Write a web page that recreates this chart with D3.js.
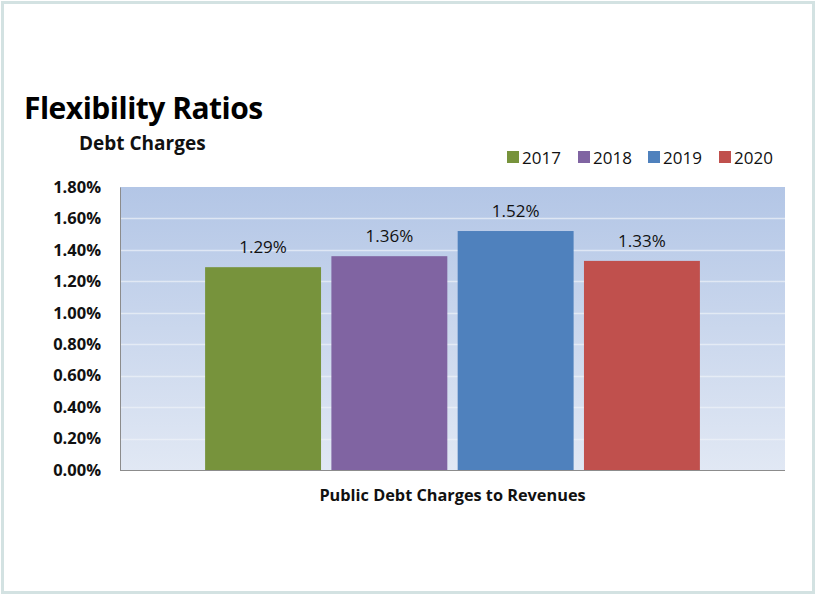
<!DOCTYPE html>
<html>
<head>
<meta charset="utf-8">
<script src="https://cdn.jsdelivr.net/npm/d3@7"></script>
<style>
  html, body { margin: 0; padding: 0; background: #fff; }
  svg { display: block; }
</style>
</head>
<body>
<svg id="chart" width="817" height="596"></svg>
<script>
// chart values
const years = ["2017", "2018", "2019", "2020"];
const values = [1.29, 1.36, 1.52, 1.33];
const colors = ["#77933c", "#8064a2", "#4f81bd", "#c0504d"];
const ticks = [0, 0.2, 0.4, 0.6, 0.8, 1.0, 1.2, 1.4, 1.6, 1.8];
const category = "Public Debt Charges to Revenues";

const WIDTH = 817;
const HEIGHT = 596;
const FONT = "'Open Sans', 'Noto Sans', Arial, sans-serif";

const plot = { left: 120, right: 785, top: 187, bottom: 470 };

const svg = d3.select("#chart");

// outer frame
svg.append("rect")
  .attr("x", 2.5).attr("y", 2.5)
  .attr("width", WIDTH - 6).attr("height", HEIGHT - 6)
  .style("fill", "#fff")
  .style("stroke", "#d3e2e2")
  .style("stroke-width", 3);

// plot background gradient
const defs = svg.append("defs");
const grad = defs.append("linearGradient")
  .attr("id", "bg").attr("x1", 0).attr("y1", 0).attr("x2", 0).attr("y2", 1);
grad.append("stop").attr("offset", "0%").attr("stop-color", "#b3c6e6");
grad.append("stop").attr("offset", "100%").attr("stop-color", "#e1e8f4");

const y = d3.scaleLinear().domain([0, 1.8]).range([plot.bottom, plot.top]);
const x0 = d3.scaleBand().domain([category]).range([plot.left, plot.right])
  .paddingInner(0).paddingOuter(0.172);
const x1 = d3.scaleBand().domain(years).range([0, x0.bandwidth()])
  .paddingInner(0.082).paddingOuter(0);

svg.append("rect")
  .attr("x", plot.left).attr("y", plot.top)
  .attr("width", plot.right - plot.left).attr("height", plot.bottom - plot.top)
  .style("fill", "url(#bg)");

// gridlines
svg.append("g").selectAll("line")
  .data(ticks.filter(t => t > 0 && t < 1.8))
  .enter().append("line")
  .attr("x1", plot.left).attr("x2", plot.right)
  .attr("y1", d => Math.round(y(d)) + 0.5).attr("y2", d => Math.round(y(d)) + 0.5)
  .style("stroke", "#eef2f8")
  .style("stroke-opacity", 0.7)
  .style("stroke-width", 1.5);

// y axis
const yAxis = svg.append("g")
  .attr("transform", `translate(${plot.left},0)`)
  .call(d3.axisLeft(y).tickValues(ticks).tickSize(0).tickPadding(19)
    .tickFormat(d => d.toFixed(2) + "%"));
yAxis.select(".domain").style("stroke", "#8c8c8c");
yAxis.selectAll("text")
  .style("font-family", FONT)
  .style("font-size", "16.5px")
  .style("font-weight", "bold")
  .style("fill", "#111");

// bars
const group = svg.append("g")
  .attr("transform", `translate(${x0(category)},0)`);
group.selectAll("rect")
  .data(years)
  .enter().append("rect")
  .attr("x", d => x1(d))
  .attr("y", (d, i) => y(values[i]))
  .attr("width", x1.bandwidth())
  .attr("height", (d, i) => y(0) - y(values[i]))
  .style("fill", (d, i) => colors[i]);

// value labels
group.selectAll("text")
  .data(years)
  .enter().append("text")
  .attr("x", d => x1(d) + x1.bandwidth() / 2)
  .attr("y", (d, i) => y(values[i]) - 14)
  .attr("text-anchor", "middle")
  .text((d, i) => values[i].toFixed(2) + "%")
  .style("font-family", FONT)
  .style("font-size", "17px")
  .style("fill", "#111");

// x axis line
svg.append("line")
  .attr("x1", plot.left).attr("x2", plot.right)
  .attr("y1", plot.bottom + 0.5).attr("y2", plot.bottom + 0.5)
  .style("stroke", "#8c8c8c")
  .style("stroke-width", 1);

// category label
svg.append("text")
  .attr("x", x0(category) + x0.bandwidth() / 2)
  .attr("y", 501)
  .attr("text-anchor", "middle")
  .text(category)
  .style("font-family", FONT)
  .style("font-size", "16.3px")
  .style("font-weight", "bold")
  .style("fill", "#111");

// titles
svg.append("text")
  .attr("x", 24).attr("y", 119)
  .text("Flexibility Ratios")
  .style("font-family", FONT)
  .style("font-size", "30px")
  .style("font-weight", "bold")
  .style("letter-spacing", "-0.5px")
  .style("fill", "#000");
svg.append("text")
  .attr("x", 79).attr("y", 150)
  .text("Debt Charges")
  .style("font-family", FONT)
  .style("font-size", "19px")
  .style("font-weight", "bold")
  .style("fill", "#111");

// legend
const legendX = [507, 578, 648, 719];
const legend = svg.append("g");
years.forEach((yr, i) => {
  legend.append("rect")
    .attr("x", legendX[i]).attr("y", 151)
    .attr("width", 12).attr("height", 12)
    .style("fill", colors[i]);
  legend.append("text")
    .attr("x", legendX[i] + 15).attr("y", 163.5)
    .text(yr)
    .style("font-family", FONT)
    .style("font-size", "17px")
    .style("fill", "#111");
});
</script>
</body>
</html>
